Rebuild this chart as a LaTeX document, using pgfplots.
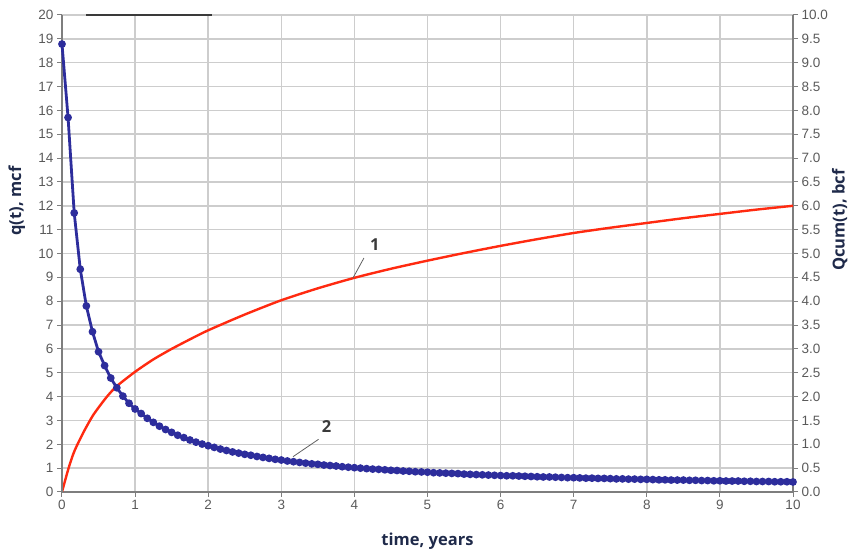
\documentclass[border=0pt]{standalone}
\usepackage{pgfplots}
\pgfplotsset{compat=1.18}
\usepackage{fontspec}
\setmainfont{Liberation Sans}
\newfontfamily\labelfont{Open Sans}

\definecolor{tickgray}{HTML}{5A5A5A}
\definecolor{gridgray}{HTML}{CDCDCD}
\definecolor{axisgray}{HTML}{7E7E7E}
\definecolor{titlenavy}{HTML}{1F2A4A}
\definecolor{qblue}{HTML}{2D2D9C}
\definecolor{qred}{HTML}{FF2A10}
\definecolor{notegray}{HTML}{3A3A3A}

\tikzset{titlefont/.style={font=\labelfont\bfseries\fontsize{16.5}{19}\selectfont, text=titlenavy}}

\pgfplotsset{
  base/.style={
    scale only axis, width=731pt, height=477pt,
    xmin=0, xmax=10,
    tick align=outside, major tick length=5pt,
    /pgf/number format/assume math mode=true,
    tick label style={font=\fontsize{13.5}{15}\selectfont, text=tickgray},
    axis line style={axisgray, line width=1.8pt},
    tick style={axisgray, line width=1pt},
  },
}

% cumulative production Qcum(t), bcf
\pgfplotstableread{
t Q
0 0
0.01 0.06
0.03 0.17
0.064 0.36
0.1 0.55
0.155 0.80
0.2 0.96
0.3 1.27
0.43 1.62
0.61 1.99
0.75 2.22
1.0 2.52
1.25 2.78
1.5 3.00
1.75 3.20
2.0 3.39
2.5 3.72
3.0 4.02
3.5 4.27
4.0 4.49
4.5 4.68
5.0 4.85
5.5 5.01
6.0 5.16
6.5 5.30
7.0 5.43
7.5 5.54
8.0 5.64
8.5 5.74
9.0 5.83
9.5 5.92
10.0 6.00
}\cumtable

% monthly rate q(t), mcf
\pgfplotstableread{
t q
0 18.78
0.083 15.70
0.167 11.70
0.25 9.34
0.333 7.80
0.417 6.72
0.5 5.88
0.583 5.30
0.667 4.78
0.75 4.37
0.833 4.02
0.917 3.72
1 3.48
1.083 3.29
1.167 3.09
1.25 2.92
1.333 2.76
1.417 2.62
1.5 2.50
1.583 2.38
1.667 2.28
1.75 2.18
1.833 2.09
1.917 2.01
2 1.94
2.083 1.87
2.167 1.80
2.25 1.74
2.333 1.68
2.417 1.63
2.5 1.58
2.583 1.54
2.667 1.49
2.75 1.45
2.833 1.41
2.917 1.37
3 1.34
3.083 1.30
3.167 1.27
3.25 1.24
3.333 1.21
3.417 1.18
3.5 1.16
3.583 1.13
3.667 1.11
3.75 1.09
3.833 1.06
3.917 1.04
4 1.02
4.083 1.00
4.167 0.98
4.25 0.96
4.333 0.95
4.417 0.93
4.5 0.91
4.583 0.90
4.667 0.88
4.75 0.87
4.833 0.85
4.917 0.84
5 0.83
5.083 0.81
5.167 0.80
5.25 0.79
5.333 0.78
5.417 0.77
5.5 0.75
5.583 0.74
5.667 0.73
5.75 0.72
5.833 0.71
5.917 0.70
6 0.69
6.083 0.68
6.167 0.68
6.25 0.67
6.333 0.66
6.417 0.65
6.5 0.64
6.583 0.63
6.667 0.63
6.75 0.62
6.833 0.61
6.917 0.60
7 0.60
7.083 0.59
7.167 0.58
7.25 0.58
7.333 0.57
7.417 0.57
7.5 0.56
7.583 0.55
7.667 0.55
7.75 0.54
7.833 0.54
7.917 0.53
8 0.53
8.083 0.52
8.167 0.51
8.25 0.51
8.333 0.50
8.417 0.50
8.5 0.50
8.583 0.49
8.667 0.49
8.75 0.48
8.833 0.48
8.917 0.47
9 0.47
9.083 0.46
9.167 0.46
9.25 0.46
9.333 0.45
9.417 0.45
9.5 0.44
9.583 0.44
9.667 0.44
9.75 0.43
9.833 0.43
9.917 0.43
10 0.42
}\ratetable

\begin{document}
\begin{tikzpicture}
\useasboundingbox (-62pt,-59pt) rectangle (790pt,492pt);

% right axis, time axis and grid; cumulative curve
\begin{axis}[base, at={(0pt,0pt)}, anchor=south west,
  axis x line*=bottom, axis y line*=right,
  ymin=0, ymax=10,
  xtick={0,1,...,10},
  ytick={0,0.5,...,10},
  yticklabel style={/pgf/number format/.cd, fixed, fixed zerofill, precision=1},
  grid=major, major grid style={gridgray, line width=1.5pt},
  xlabel={time, years},
  xlabel style={titlefont, at={(axis description cs:0.5,-0.103)}, anchor=center},
  ylabel={Qcum(t), bcf},
  ylabel style={titlefont, at={(axis description cs:1.064,0.570)}, anchor=center},
]
\addplot[qred, line width=2.4pt, smooth, tension=0.4] table[x=t, y=Q] {\cumtable};
\end{axis}

% left axis; rate curve with monthly markers
\begin{axis}[base, at={(0pt,0pt)}, anchor=south west,
  axis y line*=left, axis x line=none,
  ymin=0, ymax=20,
  ytick={0,1,...,20},
  clip=false,
  ylabel={q(t), mcf},
  ylabel style={titlefont, at={(axis description cs:-0.062,0.61)}, anchor=center},
]
\addplot[qblue, line width=2.8pt, mark=*, mark size=2.4pt] table[x=t, y=q] {\ratetable};

\draw[notegray, line width=1.4pt] (axis cs:0.33,20) -- (axis cs:2.05,20);

\draw[notegray!80, line width=0.8pt] (axis cs:3.98,8.97) -- (axis cs:4.13,9.81);
\node[titlefont, text=notegray] at (axis cs:4.28,10.36) {1};
\draw[notegray!80, line width=0.8pt] (axis cs:3.16,1.48) -- (axis cs:3.51,2.21);
\node[titlefont, text=notegray] at (axis cs:3.62,2.74) {2};
\end{axis}
\end{tikzpicture}
\end{document}
